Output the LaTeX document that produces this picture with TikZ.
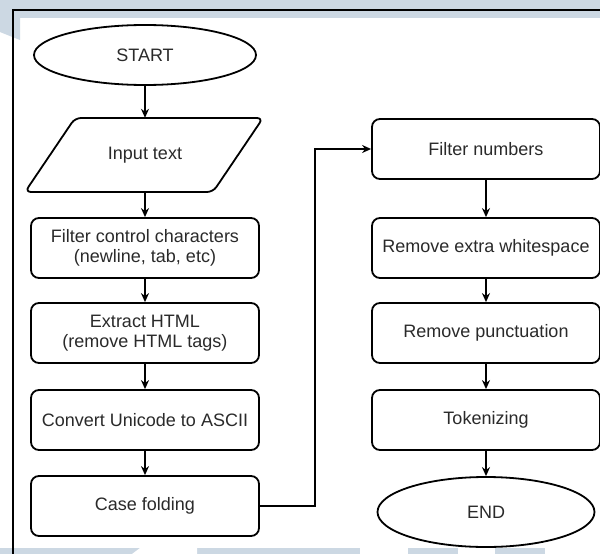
\documentclass[tikz,border=0pt]{standalone}
\usepackage{fontspec}
\setmainfont{Liberation Sans}
\usepackage{tikz}
\usetikzlibrary{shapes.geometric,arrows.meta}
\definecolor{pagebg}{HTML}{CCD8E3}
\definecolor{txtgray}{HTML}{2A2A2A}

\begin{document}
\begin{tikzpicture}[x=1pt,y=-1pt,inner sep=2pt,
  font=\fontsize{18}{20.5}\selectfont,text=txtgray,
  stepbox/.style={rectangle,draw=black,rounded corners=8pt,line width=1.8pt,
    minimum width=228pt,minimum height=60pt,align=center},
  termbox/.style={ellipse,draw=black,line width=1.8pt,inner sep=0pt},
  iobox/.style={rectangle,minimum width=238pt,minimum height=74pt},
  flow/.style={line width=1.3pt,-{Stealth[length=9pt,width=8pt]}}]
\useasboundingbox (0,0) rectangle (600,554);
% Page
\fill[pagebg] (0,0) rectangle (600,554);
\fill[white] (0,18) rectangle (600,548);
\fill[pagebg] (0,18) -- (20,18) -- (20,40) -- (0,32) -- cycle;
\fill[white] (140,548) -- (197,548) -- (197,554) -- (132,554) -- cycle;
\fill[white] (360,548) rectangle (408,554);
\fill[white] (458,548) rectangle (495,554);
\fill[white] (545,548) rectangle (600,554);
\draw[line width=1.2pt] (12,10) -- (600,10);
\draw[line width=1.2pt] (13,10) -- (13,554);
% Left Column
\node at (145,55) [termbox,minimum width=222pt,minimum height=60pt] (Start) {START};
\node at (145,155) [iobox] (Input) {Input text};
\draw[line width=1.8pt,rounded corners=6pt] (Input.center) ++(-120,37) -- ++(188,0)
  -- ++(50,-74) -- ++(-188,0) -- cycle;
\node at (145,248) [stepbox] (Control) {Filter control characters\\(newline, tab, etc)};
\node at (145,333) [stepbox] (Html) {Extract HTML\\(remove HTML tags)};
\node at (145,420) [stepbox] (Ascii) {Convert Unicode to ASCII};
\node at (145,506) [stepbox] (Case) {Case folding};
% Right Column
\node at (486,149) [stepbox] (Numbers) {Filter numbers};
\node at (486,248) [stepbox] (Space) {Remove extra whitespace};
\node at (486,333) [stepbox] (Punct) {Remove punctuation};
\node at (486,420) [stepbox] (Token) {Tokenizing};
\node at (486,512) [termbox,minimum width=217pt,minimum height=70pt] (End) {END};
\coordinate (Bend) at (315,149);
% Node Connections
\draw[flow] (Start) -- (Input);
\draw[flow] (Input) -- (Control);
\draw[flow] (Control) -- (Html);
\draw[flow] (Html) -- (Ascii);
\draw[flow] (Ascii) -- (Case);
\draw[flow] (Case.east) -| (Bend) -- (Numbers.west);
\draw[flow] (Numbers) -- (Space);
\draw[flow] (Space) -- (Punct);
\draw[flow] (Punct) -- (Token);
\draw[flow] (Token) -- (End);
\end{tikzpicture}
\end{document}
